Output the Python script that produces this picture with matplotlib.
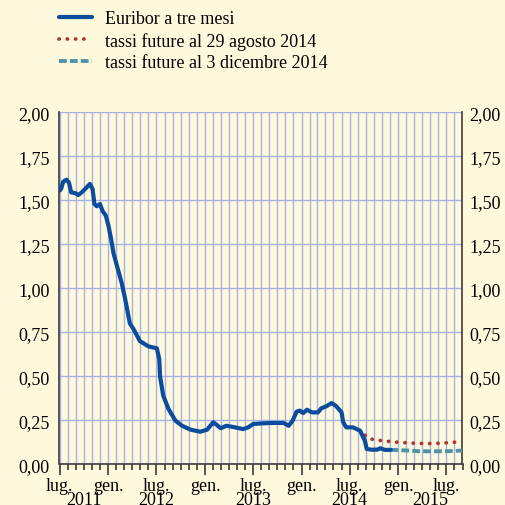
import matplotlib
matplotlib.use("Agg")
import matplotlib.pyplot as plt
import matplotlib.dates as mdates
import numpy as np
import pandas as pd

# Euribor a tre mesi
euribor_dates = [
    "2011-07-01", "2011-07-07", "2011-07-15", "2011-07-28", "2011-08-06",
    "2011-08-14", "2011-08-29", "2011-09-10", "2011-09-23", "2011-10-12",
    "2011-10-24", "2011-11-03", "2011-11-10", "2011-11-19", "2011-12-01",
    "2011-12-10", "2011-12-23", "2012-01-02", "2012-01-12", "2012-01-21",
    "2012-02-03", "2012-02-21", "2012-03-05", "2012-03-23", "2012-04-05",
    "2012-04-30", "2012-06-01", "2012-07-03", "2012-07-12", "2012-07-15",
    "2012-07-27", "2012-08-16", "2012-09-11", "2012-10-06", "2012-11-07",
    "2012-12-14", "2013-01-09", "2013-02-01", "2013-02-15", "2013-03-01",
    "2013-03-23", "2013-04-24", "2013-05-25", "2013-06-13", "2013-07-02",
    "2013-08-10", "2013-09-16", "2013-10-25", "2013-11-13", "2013-11-28",
    "2013-12-13", "2013-12-25", "2014-01-07", "2014-01-21", "2014-02-09",
    "2014-03-04", "2014-03-16", "2014-04-05", "2014-04-24", "2014-05-10",
    "2014-06-01", "2014-06-07", "2014-06-19", "2014-07-14", "2014-07-28",
    "2014-08-10", "2014-08-16", "2014-08-28", "2014-09-04", "2014-09-22",
    "2014-10-13", "2014-10-25", "2014-11-12", "2014-12-03",
]
euribor_vals = [
    1.555, 1.564, 1.606, 1.617, 1.600,
    1.545, 1.541, 1.530, 1.545, 1.574,
    1.593, 1.564, 1.479, 1.466, 1.479,
    1.441, 1.413, 1.356, 1.280, 1.200,
    1.128, 1.030, 0.940, 0.800, 0.770,
    0.700, 0.670, 0.659, 0.598, 0.500,
    0.390, 0.314, 0.248, 0.219, 0.197,
    0.185, 0.197, 0.239, 0.223, 0.205,
    0.219, 0.210, 0.200, 0.210, 0.229,
    0.233, 0.235, 0.235, 0.219, 0.248,
    0.299, 0.305, 0.291, 0.310, 0.295,
    0.295, 0.318, 0.330, 0.348, 0.333,
    0.295, 0.239, 0.210, 0.210, 0.200,
    0.191, 0.172, 0.134, 0.087, 0.083,
    0.083, 0.091, 0.082, 0.082,
]

# tassi future al 29 agosto 2014
fut_aug_dates = [
    "2014-08-29", "2014-09-15", "2014-10-15", "2014-11-15", "2014-12-15",
    "2015-01-15", "2015-02-15", "2015-03-15", "2015-04-15", "2015-05-15",
    "2015-06-15", "2015-07-15", "2015-08-15", "2015-09-01",
]
fut_aug_vals = [
    0.165, 0.145, 0.137, 0.132, 0.127,
    0.124, 0.121, 0.119, 0.118, 0.118,
    0.120, 0.123, 0.127, 0.130,
]

# tassi future al 3 dicembre 2014
fut_dec_dates = [
    "2014-12-03", "2015-01-15", "2015-02-15", "2015-03-15", "2015-04-15",
    "2015-05-15", "2015-06-15", "2015-07-15", "2015-08-15", "2015-09-01",
]
fut_dec_vals = [
    0.082, 0.080, 0.077, 0.075, 0.074,
    0.074, 0.074, 0.075, 0.077, 0.078,
]

year_labels = ["2011", "2012", "2013", "2014", "2015"]
year_pos = ["2011-10-01", "2012-07-01", "2013-07-01", "2014-07-01", "2015-05-01"]

BG = "#fef9dc"
GRID = "#a6b2e4"
BLUE = "#0b4c9c"
RED = "#b3322e"
TEAL = "#4f93a9"
AXC = "#3a3a3a"

plt.rcParams['font.family'] = ['Liberation Serif', 'DejaVu Serif']
FS = 13

fig = plt.figure(figsize=(5.06, 5.06), dpi=100, facecolor=BG)
ax = fig.add_axes([59.5 / 506, (506 - 465.3) / 506,
                   (462.5 - 59.5) / 506, (465.3 - 113.3) / 506])
ax.set_facecolor(BG)

ax.plot(pd.to_datetime(euribor_dates), euribor_vals, color=BLUE, lw=3.0,
        solid_joinstyle='round', solid_capstyle='round',
        label="Euribor a tre mesi", zorder=4)
ax.plot(pd.to_datetime(fut_aug_dates), fut_aug_vals, color=RED, lw=2.7,
        linestyle=(0, (0.05, 2.15)), dash_capstyle='round',
        label="tassi future al 29 agosto 2014", zorder=3)
ax.plot(pd.to_datetime(fut_dec_dates), fut_dec_vals, color=TEAL, lw=2.8,
        linestyle=(0, (2.0, 0.8)), dash_capstyle='butt',
        label="tassi future al 3 dicembre 2014", zorder=3)

ax.set_xlim(pd.Timestamp("2011-07-01"), pd.Timestamp("2015-09-01"))
ax.set_ylim(0, 2.0)

ax.xaxis.set_major_locator(mdates.MonthLocator(bymonth=[1, 7]))
ax.xaxis.set_minor_locator(mdates.MonthLocator())
ax.xaxis.set_major_formatter(
    plt.FuncFormatter(lambda v, p: "gen." if mdates.num2date(v).month == 1 else "lug."))
yfmt = plt.FuncFormatter(lambda v, p: ("%.2f" % v).replace(".", ","))
ax.set_yticks(np.arange(0, 2.01, 0.25))
ax.yaxis.set_major_formatter(yfmt)

ax.grid(True, which='both', axis='x', color=GRID, lw=1.0, zorder=0)
ax.grid(True, which='major', axis='y', color=GRID, lw=1.0, zorder=0)
ax.set_axisbelow(True)

for s in ['left', 'right', 'bottom']:
    ax.spines[s].set_color(AXC)
    ax.spines[s].set_linewidth(1.2)
ax.spines['top'].set_visible(False)

ax.tick_params(axis='y', length=0, labelsize=FS, pad=7)
ax.tick_params(axis='x', which='major', length=8, width=1.2, color=AXC,
               labelsize=FS, pad=1)
ax.tick_params(axis='x', which='minor', length=4, width=1.2, color=AXC)

# right-hand labels
ax2 = ax.twinx()
ax2.set_ylim(0, 2.0)
ax2.set_yticks(np.arange(0, 2.01, 0.25))
ax2.yaxis.set_major_formatter(yfmt)
ax2.tick_params(axis='y', length=0, labelsize=FS, pad=5)
for s in ax2.spines.values():
    s.set_visible(False)

for lab, pos in zip(year_labels, year_pos):
    ax.text(mdates.date2num(pd.Timestamp(pos)), -0.076, lab, fontsize=FS,
            ha='center', va='top', transform=ax.get_xaxis_transform(),
            clip_on=False)

fig.legend(*ax.get_legend_handles_labels(), loc='upper left',
           bbox_to_anchor=(52 / 506, 1 - 4 / 506),
           frameon=False, fontsize=FS, handlelength=1.8, handletextpad=0.75,
           labelspacing=0.25, borderaxespad=0)

fig.savefig("out.png", dpi=100, facecolor=BG)
